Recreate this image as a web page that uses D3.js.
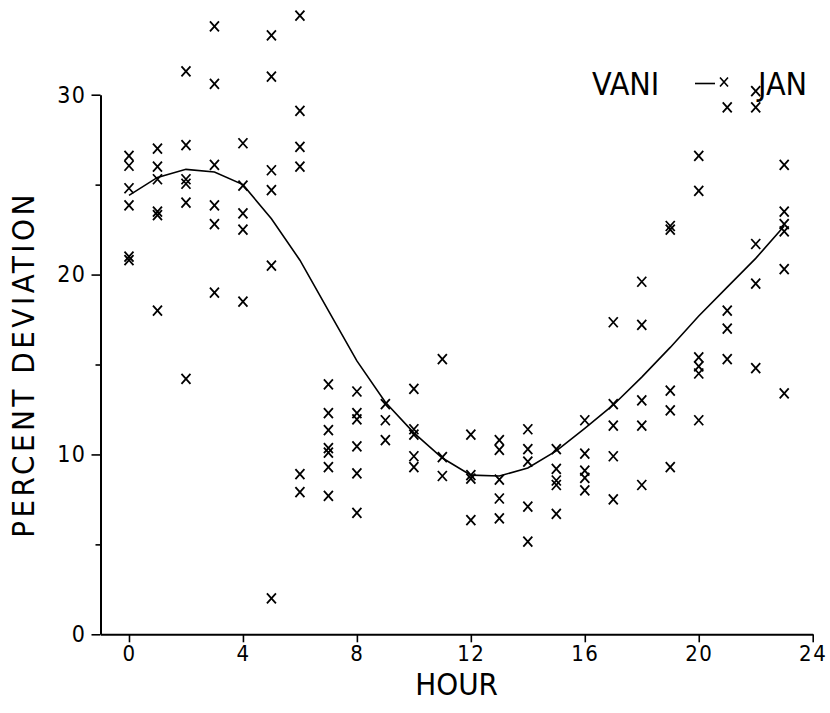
<!DOCTYPE html>
<html>
<head>
<meta charset="utf-8">
<script src="https://cdn.jsdelivr.net/npm/d3@7"></script>
<style>
  html, body { margin: 0; padding: 0; background: #fff; }
  svg { display: block; }
  text { font-family: "Liberation Sans Narrow", "DejaVu Sans Condensed", "Liberation Sans", sans-serif; fill: #000; }
</style>
</head>
<body>
<svg id="chart" width="830" height="713"></svg>
<script>
// ---- data ----
const obsHour = [
  0,0,0,0,0,0,
  1,1,1,1,1,1,
  2,2,2,2,2,2,
  3,3,3,3,3,3,
  4,4,4,4,4,
  5,5,5,5,5,5,
  6,6,6,6,6,6,
  7,7,7,7,7,7,7,
  8,8,8,8,8,8,
  9,9,9,
  10,10,10,10,10,
  11,11,11,
  12,12,12,12,
  13,13,13,13,13,
  14,14,14,14,14,
  15,15,15,15,15,
  16,16,16,16,16,
  17,17,17,17,17,
  18,18,18,18,18,
  19,19,19,19,19,
  20,20,20,20,20,20,
  21,21,21,21,
  22,22,22,22,22,
  23,23,23,23,23,23
];
const obsPct = [
  26.6,26.05,24.8,23.85,21.0,20.8,
  27.0,26.0,25.3,23.5,23.3,18.0,
  31.3,27.2,25.3,25.05,24.0,14.2,
  33.8,30.6,26.1,23.85,22.8,19.0,
  27.3,24.95,23.4,22.5,18.5,
  33.3,31.0,25.8,24.7,20.5,2.0,
  34.4,29.1,27.1,26.0,8.9,7.9,
  13.9,12.3,11.35,10.35,10.1,9.3,7.7,
  13.5,12.3,11.95,10.45,8.95,6.75,
  12.8,11.9,10.8,
  13.65,11.4,11.1,9.9,9.3,
  15.3,9.85,8.8,
  11.1,8.85,8.65,6.35,
  10.8,10.25,8.6,7.55,6.45,
  11.4,10.3,9.6,7.1,5.15,
  10.3,9.2,8.55,8.3,6.7,
  11.9,10.05,9.1,8.7,8.0,
  17.35,12.8,11.6,9.9,7.5,
  19.6,17.2,13.0,11.6,8.3,
  22.7,22.5,13.55,12.45,9.3,
  26.6,24.65,15.4,14.9,14.5,11.9,
  29.3,18.0,17.0,15.3,
  30.2,29.3,21.7,19.5,14.8,
  26.1,23.5,22.8,22.4,20.3,13.4
];
const fitHour = [0,1,2,3,4,5,6,7,8,9,10,11,12,13,14,15,16,17,18,19,20,21,22,23];
const fitPct  = [24.4,25.4,25.85,25.7,25.0,23.1,20.8,18.0,15.2,12.9,11.2,9.8,8.85,8.8,9.25,10.2,11.45,12.75,14.3,15.95,17.7,19.3,20.9,22.7];
const xTicks = [0,4,8,12,16,20,24];
const yTicks = [0,5,10,15,20,25,30];
const yLabelTicks = [0,10,20,30];
const xTitle = "HOUR";
const yTitle = "PERCENT DEVIATION";
const legendLeft = "VANI";
const legendRight = "JAN";

// ---- drawing ----
const svg = d3.select("#chart");
const x = d3.scaleLinear().domain([-1, 24]).range([100.5, 812.7]);
const y = d3.scaleLinear().domain([0, 30]).range([634.3, 94.7]);

const xAxis = d3.axisBottom(x).tickValues(xTicks).tickSize(8).tickSizeOuter(0).tickPadding(3);
const gx = svg.append("g").attr("transform", `translate(0,${y(0)})`).call(xAxis);
gx.select(".domain").attr("stroke-width", 2);
gx.selectAll(".tick line").attr("stroke-width", 1.6);
gx.selectAll(".tick text").attr("font-size", 22).style("letter-spacing", "1.5px");

const yAxis = d3.axisLeft(y).tickValues(yTicks).tickSize(9).tickSizeOuter(0).tickPadding(5)
  .tickFormat(d => yLabelTicks.includes(d) ? d : "");
const gy = svg.append("g").attr("transform", `translate(${x(-1)},0)`).call(yAxis);
gy.select(".domain").attr("stroke-width", 2);
gy.selectAll(".tick line").attr("stroke-width", 1.6)
  .attr("x2", d => yLabelTicks.includes(d) ? -9 : -5);
gy.selectAll(".tick text").attr("font-size", 23).style("letter-spacing", "1.5px");

svg.append("text").attr("x", (x(-1) + x(24)) / 2).attr("y", 695)
  .attr("text-anchor", "middle").attr("font-size", 31).text(xTitle);

svg.append("text")
  .attr("transform", `translate(34,${(y(0) + y(30)) / 2}) rotate(-90)`)
  .attr("text-anchor", "middle").attr("font-size", 31).style("letter-spacing", "3.5px")
  .text(yTitle);

// fitted curve
const line = d3.line().x((d, i) => x(fitHour[i])).y(d => y(d)).curve(d3.curveLinear);
svg.append("path").datum(fitPct).attr("d", line)
  .attr("fill", "none").attr("stroke", "#000").attr("stroke-width", 1.6);

// observations
const xMark = "M-4.5,-5L4.5,5M-4.5,5L4.5,-5";
svg.append("g").selectAll("path").data(obsPct).join("path")
  .attr("transform", (d, i) => `translate(${x(obsHour[i])},${y(d)})`)
  .attr("d", xMark).attr("fill", "none").attr("stroke", "#000").attr("stroke-width", 1.8);

// legend
const lg = svg.append("g");
lg.append("text").attr("x", 592).attr("y", 95).attr("font-size", 32).text(legendLeft);
lg.append("line").attr("x1", 695).attr("x2", 715).attr("y1", 83.5).attr("y2", 83.5)
  .attr("stroke", "#000").attr("stroke-width", 1.6);
lg.append("path").attr("transform", "translate(724,82)").attr("d", "M-4,-4.5L4,4.5M-4,4.5L4,-4.5")
  .attr("fill", "none").attr("stroke", "#000").attr("stroke-width", 1.6);
lg.append("text").attr("x", 758).attr("y", 95).attr("font-size", 32).text(legendRight);
</script>
</body>
</html>
